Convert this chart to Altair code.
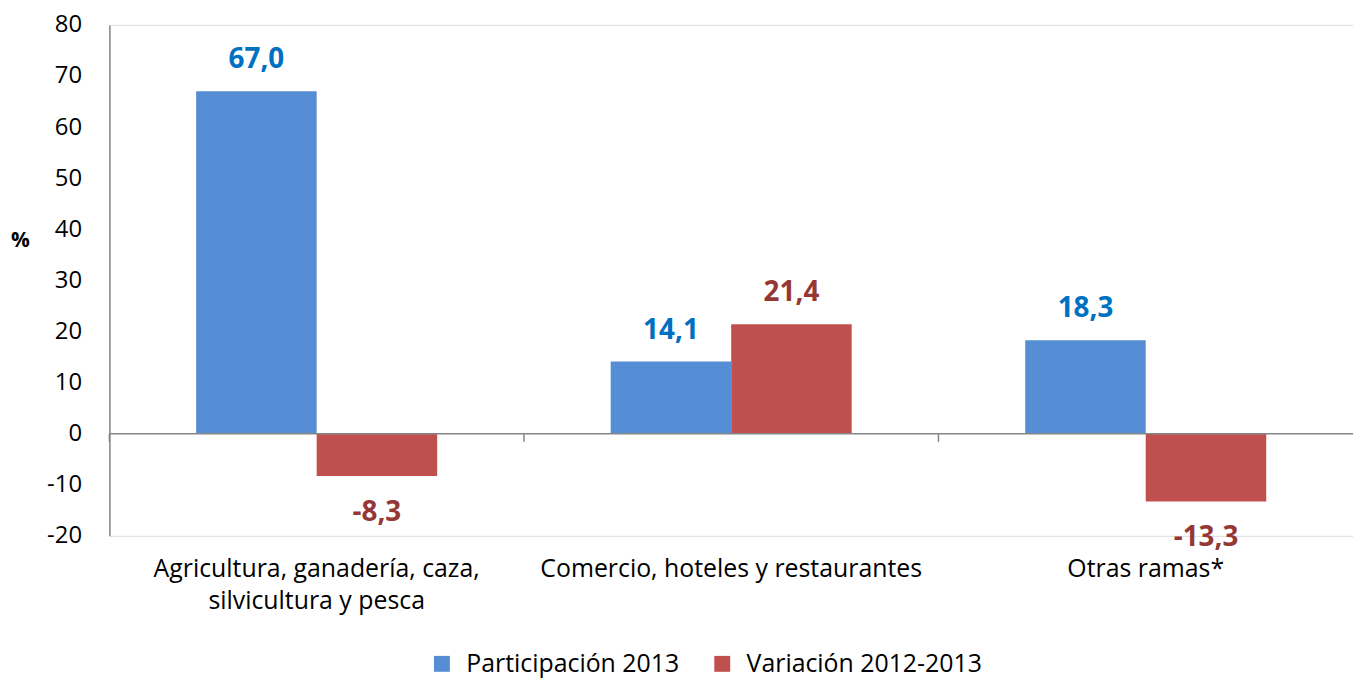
import altair as alt
import pandas as pd

categories = ["Agricultura, ganadería, caza,\nsilvicultura y pesca",
              "Comercio, hoteles y restaurantes",
              "Otras ramas*"]
series = ["Participación 2013", "Variación 2012-2013"]
participacion = [67.0, 14.1, 18.3]
variacion = [-8.3, 21.4, -13.3]

rows = []
for i, c in enumerate(categories):
    for s, v in zip(series, [participacion[i], variacion[i]]):
        rows.append({"cat": c, "series": s, "value": v,
                     "label": f"{v:.1f}".replace(".", ",")})
df = pd.DataFrame(rows)

FONT = "Open Sans"
bar_colors = ["#558ED5", "#C0504D"]

x_enc = alt.X("cat:N", sort=categories,
              scale=alt.Scale(paddingInner=0, paddingOuter=0),
              axis=alt.Axis(title=None, domain=False, ticks=False, labelAngle=0,
                            labelFontSize=25, labelFont=FONT, labelColor="#000000",
                            labelPadding=21, labelLimit=0, labelLineHeight=32,
                            labelExpr="split(datum.label, '\\n')"))
xoff = alt.XOffset("series:N", sort=series,
                   scale=alt.Scale(paddingInner=0, paddingOuter=0.72))
y_enc = alt.Y("value:Q",
              scale=alt.Scale(domain=[-20, 80], nice=False, zero=False),
              axis=alt.Axis(title="%", titleAngle=0, titleX=-90, titleY=217,
                            titleAlign="center", titleBaseline="middle",
                            titleFontSize=21, titleFontWeight="bold", titleFont=FONT,
                            titleColor="#000000",
                            values=list(range(-20, 81, 10)), ticks=False, grid=False,
                            domainColor="#868686", domainWidth=1.5,
                            labelFontSize=24, labelFont=FONT, labelColor="#000000",
                            labelPadding=28,
                            labelExpr="datum.value < 0 ? '-' + abs(datum.value) : '' + datum.value"))

base = alt.Chart(df)

bars = base.mark_bar().encode(
    x=x_enc, xOffset=xoff, y=y_enc, y2=alt.datum(0),
    color=alt.Color("series:N", sort=series,
                    scale=alt.Scale(domain=series, range=bar_colors),
                    legend=alt.Legend(title=None, orient="none", legendX=322, legendY=630,
                                      direction="horizontal", symbolType="square",
                                      symbolSize=256, symbolStrokeWidth=0,
                                      labelFontSize=25, labelFont=FONT, labelLimit=0,
                                      labelColor="#000000", columnPadding=30,
                                      labelOffset=12)),
)

label_color = alt.condition(alt.datum.series == series[0],
                            alt.value("#0070C0"), alt.value("#953735"))

text_pos = base.transform_filter(alt.datum.value >= 0).mark_text(
    fontSize=28, fontWeight="bold", font=FONT, baseline="middle", dy=-31
).encode(x=alt.X("cat:N", sort=categories), xOffset=xoff, y="value:Q",
         text="label:N", color=label_color)

text_neg = base.transform_filter(alt.datum.value < 0).mark_text(
    fontSize=28, fontWeight="bold", font=FONT, baseline="middle", dy=37
).encode(x=alt.X("cat:N", sort=categories), xOffset=xoff, y="value:Q",
         text="label:N", color=label_color)

zero = alt.Chart(pd.DataFrame({"z": [0]})).mark_rule(
    color="#868686", strokeWidth=1.5).encode(y=alt.Y("z:Q"))

ticks = base.transform_filter(alt.datum.series == series[0]).mark_rule(
    color="#868686", strokeWidth=1.5
).encode(x=alt.X("cat:N", sort=categories, bandPosition=0),
         y=alt.datum(0), y2=alt.datum(-1.6))

chart = alt.layer(bars, zero, ticks, text_pos, text_neg).properties(
    width=1251, height=514,
    autosize=alt.AutoSizeParams(type="none"),
    padding={"left": 102, "top": 15, "right": 0, "bottom": 142},
).configure_view(stroke=None).configure(background="white")

chart.save("out.html", embed_options={"renderer": "svg", "actions": False})
